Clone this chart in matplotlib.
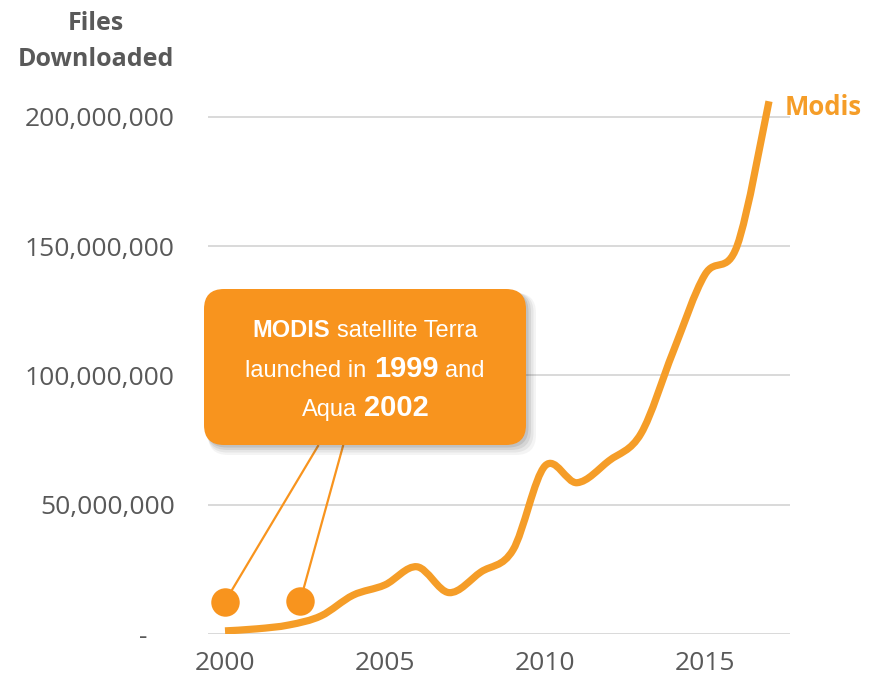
import numpy as np
import matplotlib
matplotlib.use('Agg')
import matplotlib.pyplot as plt
from matplotlib.path import Path
from matplotlib.patches import PathPatch, FancyBboxPatch
from matplotlib.lines import Line2D
from matplotlib.transforms import IdentityTransform

# ---------------- data ----------------
years = list(range(2000, 2018))
downloads = [1.2e6, 2.0e6, 3.5e6, 7.0e6, 15e6, 19e6, 26e6, 16e6, 24e6, 32.5e6,
             65e6, 58.5e6, 67e6, 77.5e6, 109e6, 139e6, 150e6, 206e6]
series_name = "Modis"
y_ticks = [0, 50e6, 100e6, 150e6, 200e6]
y_tick_labels = ["-    ", "50,000,000", "100,000,000", "150,000,000", "200,000,000"]
x_ticks = [2000, 2005, 2010, 2015]
x_tick_labels = ["2000", "2005", "2010", "2015"]
y_title_lines = ["Files", "Downloaded"]
callout_lines = [
    [("MODIS", True), ("satellite Terra", False)],
    [("launched in", False), ("1999", True), ("and", False)],
    [("Aqua", False), ("2002", True)],
]
launch_marker_years = [2000.0, 2002.35]
launch_marker_values = [12.5e6, 12.8e6]

# ---------------- style ----------------
W, H, DPI = 869, 688, 100
ORANGE_LINE = '#F59D28'
ORANGE_BOX = '#F8941E'
GREY_TEXT = '#595959'
GRID = '#D9D9D9'
AX_FONT = 'Open Sans'
BOX_FONT = 'Liberation Sans'

fig = plt.figure(figsize=(W / DPI, H / DPI), dpi=DPI)
fig.patch.set_facecolor('white')
ax = fig.add_axes([208 / W, 1 - 634 / H, (790 - 208) / W, (634 - 78) / H])
ax.set_xlim(2000 - 17 / 32, 2000 + 565 / 32)
ax.set_ylim(0, 215e6)
for s in ax.spines.values():
    s.set_visible(False)
ax.set_yticks(y_ticks)
ax.set_yticklabels(y_tick_labels)
ax.set_xticks(x_ticks)
ax.set_xticklabels(x_tick_labels)
ax.yaxis.grid(True, color=GRID, lw=1.4)
ax.set_axisbelow(True)
ax.tick_params(axis='y', length=0, pad=24, labelsize=19, labelcolor=GREY_TEXT)
ax.tick_params(axis='x', length=0, pad=12, labelsize=19, labelcolor=GREY_TEXT)
for lab in ax.get_xticklabels() + ax.get_yticklabels():
    lab.set_fontfamily(AX_FONT)


def smooth_path(xs, ys):
    pts = np.column_stack([xs, ys]).astype(float)
    n = len(pts)
    verts = [pts[0]]
    codes = [Path.MOVETO]
    for i in range(n - 1):
        p0 = pts[i - 1] if i > 0 else pts[i]
        p1 = pts[i]
        p2 = pts[i + 1]
        p3 = pts[i + 2] if i + 2 < n else pts[i + 1]
        c1 = p1 + (p2 - p0) / 6.0
        c2 = p2 - (p3 - p1) / 6.0
        verts += [c1, c2, p2]
        codes += [Path.CURVE4] * 3
    return Path(verts, codes)


ax.add_patch(PathPatch(smooth_path(years, downloads), fill=False,
                       edgecolor=ORANGE_LINE, lw=5.2, capstyle='butt',
                       joinstyle='round', zorder=3))

ax.annotate(series_name, xy=(years[-1], downloads[-1]), xytext=(16, -6),
            textcoords='offset pixels', ha='left', va='center',
            fontsize=18.5, fontweight='bold', color=ORANGE_LINE,
            fontfamily=AX_FONT, annotation_clip=False)

# y-axis title
for i, t in enumerate(y_title_lines):
    fig.text(96 / W, 1 - (24 + 36 * i) / H, t, ha='center', va='center',
             fontsize=18, fontweight='bold', color=GREY_TEXT, fontfamily=AX_FONT)

# ---------------- callout ----------------
bx0, bx1, by0, by1 = 204, 526, 289, 445  # pixel box (top-left origin)
rad = 20
# shadow
for k, a in enumerate([0.05, 0.07, 0.09, 0.12]):
    off = 7 - k * 1.5
    grow = 3 - k
    fig.patches.append(FancyBboxPatch(
        (bx0 + rad + off - grow, H - by1 + rad - off - grow),
        (bx1 - bx0) - 2 * rad + 2 * grow, (by1 - by0) - 2 * rad + 2 * grow,
        boxstyle=f'round,pad={rad}', transform=IdentityTransform(),
        facecolor='#333333', edgecolor='none', alpha=a, zorder=5))
fig.patches.append(FancyBboxPatch(
    (bx0 + rad, H - by1 + rad), (bx1 - bx0) - 2 * rad, (by1 - by0) - 2 * rad,
    boxstyle=f'round,pad={rad}', transform=IdentityTransform(),
    facecolor=ORANGE_BOX, edgecolor='none', zorder=6))

# connectors and dots
disp = ax.transData.transform(np.column_stack([launch_marker_years, launch_marker_values]))
starts = [(318, 446), (343, 446)]
for (sx, sy), (dx, dy) in zip(starts, disp):
    fig.lines.append(Line2D([sx, dx], [H - sy, dy], transform=IdentityTransform(),
                            color=ORANGE_BOX, lw=1.6, zorder=4))
ax.scatter(launch_marker_years, launch_marker_values, s=420, color=ORANGE_BOX,
           zorder=4, clip_on=False, linewidths=0)

# callout text
renderer = fig.canvas.get_renderer()
cx = (bx0 + bx1) / 2
baselines = [337, 377, 416]
reg_size, bold_size, num_size = 17, 17, 21
for li, pieces in enumerate(callout_lines):
    texts = []
    for word, bold in pieces:
        size = bold_size if bold else reg_size
        if bold and word.isdigit():
            size = num_size
        t = fig.text(0, 0, word, transform=IdentityTransform(), ha='left',
                     va='baseline', fontsize=size,
                     fontweight='bold' if bold else 'normal',
                     color='white', fontfamily=BOX_FONT, zorder=7)
        texts.append(t)
    widths = [t.get_window_extent(renderer).width for t in texts]
    gap = reg_size * DPI / 72 * 0.3
    total = sum(widths) + gap * (len(texts) - 1)
    x = cx - total / 2
    for t, w in zip(texts, widths):
        t.set_position((x, H - baselines[li]))
        x += w + gap

fig.savefig('out.png', dpi=DPI, facecolor='white')
